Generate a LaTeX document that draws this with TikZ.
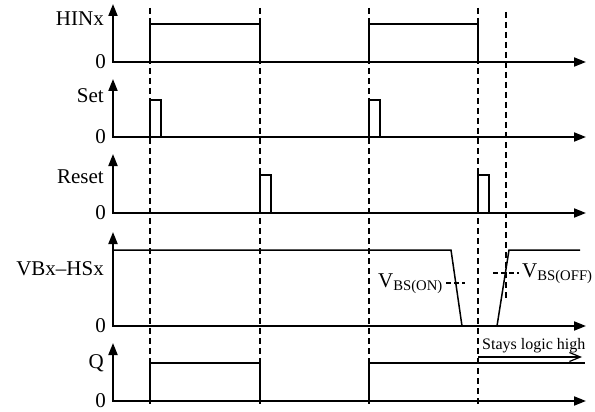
\documentclass[tikz,border=0pt]{standalone}
\usepackage{fontspec}
\setmainfont{Liberation Serif}
\usetikzlibrary{arrows.meta}

\begin{document}
\begin{tikzpicture}[x=1pt,y=-1pt,
axis/.style={line width=2pt,{Triangle[length=12pt,width=9pt]}-{Triangle[length=12pt,width=9pt]}},
wave/.style={line width=1.5pt},
guide/.style={line width=1.5pt,dash pattern=on 6pt off 4pt},
level/.style={line width=1.2pt,dash pattern=on 5pt off 3pt},
lbl/.style={anchor=east,inner sep=0pt,font=\fontsize{21}{24}\selectfont}
]
\useasboundingbox (0,0) rectangle (595,412);

% axes and signal names
\foreach \top/\base/\ly/\name [count=\i] in {4/62/19/HINx,79/137/96/Set,154/213/177/Reset,232/326/269/VBx--HSx,343/401/363/Q}{
  \draw[axis] (113,\top) -- (113,\base) -- (586,\base);
  \node[lbl] (sig\i) at (104,\ly) {\name};
  \node[lbl] (zero\i) at (106,\base) {0};
}

% edges of HINx
\foreach \x in {150,260,369,478}{
  \draw[guide] (\x,8) -- (\x,405);
}
\draw[guide] (506,12) -- (506,298);

% HINx
\draw[wave] (150,62) -- (150,24) -- (260,24) -- (260,62);
\draw[wave] (369,62) -- (369,24) -- (478,24) -- (478,62);

% Set and Reset pulses
\foreach \x in {150,369}{
  \draw[wave] (\x,137) -- (\x,100) -- (\x+11,100) -- (\x+11,137);
}
\foreach \x in {260,478}{
  \draw[wave] (\x,213) -- (\x,175) -- (\x+11,175) -- (\x+11,213);
}

% VBx-HSx
\draw[wave] (113,250) -- (451,250) -- (462,326) -- (497,326) -- (509,250) -- (580,250);
\node (von) [anchor=base west,inner sep=0pt,font=\fontsize{21}{24}\selectfont] at (378,287) {V\textsubscript{BS(ON)}};
\node (voff) [anchor=base west,inner sep=0pt,font=\fontsize{21}{24}\selectfont] at (522,277) {V\textsubscript{BS(OFF)}};
\draw[level] (446,283) -- (465,283);
\draw[level] (493,273) -- (519,273);

% Q
\draw[wave] (150,401) -- (150,363) -- (260,363) -- (260,401);
\draw[wave] (369,401) -- (369,363) -- (585,363);
\coordinate (hold) at (478,357);
\coordinate (holdend) at (582,357);
\draw[line width=1.2pt,-{Straight Barb[length=11pt,width=9pt]}] (hold) -- (holdend);
\node (stay) [anchor=base west,inner sep=0pt,font=\fontsize{16}{18}\selectfont] at (482,349) {Stays logic high};
\end{tikzpicture}
\end{document}
